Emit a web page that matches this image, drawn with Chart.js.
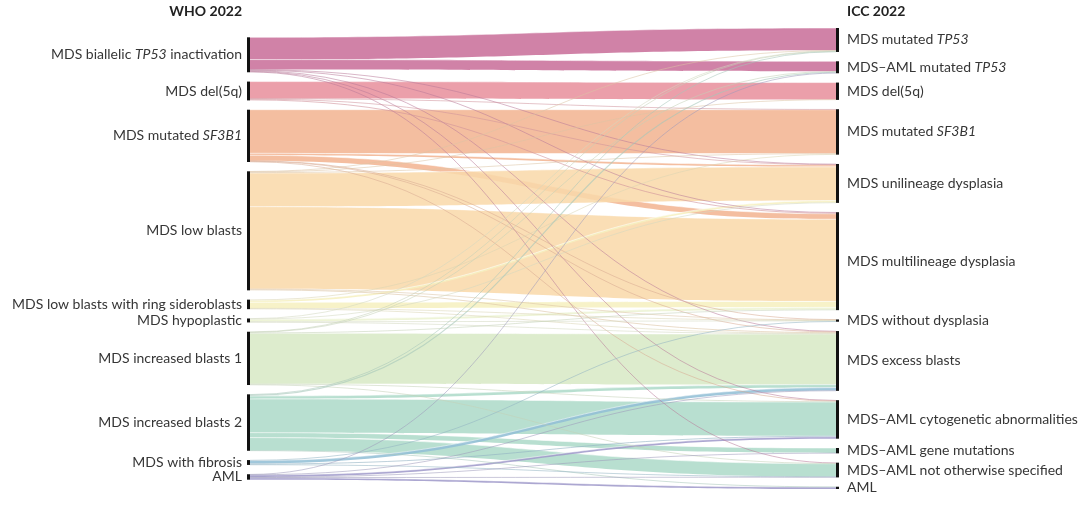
<!DOCTYPE html>
<html>
<head>
<meta charset="utf-8">
<script src="https://cdn.jsdelivr.net/npm/chart.js@4.4.1/dist/chart.umd.min.js"></script>
<style>
  html, body { margin: 0; padding: 0; background: #fff; }
  #wrap { width: 1080px; height: 505px; }
</style>
</head>
<body>
<div id="wrap"><canvas id="sankey" width="1080" height="505"></canvas></div>
<script>
// ---- data ----
const whoTitle = 'WHO 2022';
const iccTitle = 'ICC 2022';

const whoLabels = [
  'MDS biallelic TP53 inactivation',
  'MDS del(5q)',
  'MDS mutated SF3B1',
  'MDS low blasts',
  'MDS low blasts with ring sideroblasts',
  'MDS hypoplastic',
  'MDS increased blasts 1',
  'MDS increased blasts 2',
  'MDS with fibrosis',
  'AML'
];

const iccLabels = [
  'MDS mutated TP53',
  'MDS\u2013AML mutated TP53',
  'MDS del(5q)',
  'MDS mutated SF3B1',
  'MDS unilineage dysplasia',
  'MDS multilineage dysplasia',
  'MDS without dysplasia',
  'MDS excess blasts',
  'MDS\u2013AML cytogenetic abnormalities',
  'MDS\u2013AML gene mutations',
  'MDS\u2013AML not otherwise specified',
  'AML'
];

const whoColors = [
  '#c9719b', '#e8929e', '#f3b593', '#f9d9ab', '#f6f0c0',
  '#ecf3d2', '#d8e9c6', '#aedbca', '#93bfd6', '#a19bcb'
];

// patients per WHO class (rows) reclassified into each ICC class (columns)
const transitions = [
  // TP53 TP53A del5q SF3B1 uni  multi  w/o   EB   cyto gene  NOS  AML
  [ 225, 100,   0,    0,    4,    6,   0,    6,    6,   0,    6,   0 ],  // biallelic TP53
  [   0,   0, 170,    5,    5,   10,   0,    0,    0,   0,    0,   0 ],  // del(5q)
  [   0,   0,   0,  440,   20,   55,   3,    5,    5,   0,    0,   0 ],  // SF3B1
  [   4,   0,   5,    8,  340,  830,   5,   10,    0,   0,    0,   0 ],  // low blasts
  [   0,   0,   0,    6,   20,   60,   4,    6,    0,   0,    0,   0 ],  // low blasts RS
  [   4,   0,   0,    0,    4,   22,   6,    4,    0,   0,    0,   0 ],  // hypoplastic
  [   4,   5,   0,    0,    0,    6,   0,  510,    8,   0,    5,   0 ],  // IB1
  [   5,  12,   0,    0,    0,    0,   0,   30,  340,  50,  130,   3 ],  // IB2
  [   0,   0,   0,    0,    0,    0,   5,   30,   10,   0,    4,   0 ],  // fibrosis
  [   0,   4,   0,    0,    0,    0,   0,    3,   20,   4,    4,  20 ]   // AML
];

const italicTerms = ['TP53', 'SF3B1'];

// ---- layout helpers ----
const NODE_GAP = 94;           // vertical gap between nodes, in patient units
const LABEL_FONT = '14px Lato';
const TITLE_FONT = 'bold 14px Lato';

const whoTotals = transitions.map(row => row.reduce((a, b) => a + b, 0));
const iccTotals = iccLabels.map((_, j) => transitions.reduce((a, row) => a + row[j], 0));
const grandTotal = whoTotals.reduce((a, b) => a + b, 0);
const yMax = grandTotal + (iccLabels.length - 1) * NODE_GAP;

function stackNodes(totals) {
  const span = totals.reduce((a, b) => a + b, 0) + (totals.length - 1) * NODE_GAP;
  let y = (yMax - span) / 2;
  return totals.map(t => {
    const node = { y0: y, y1: y + t };
    y += t + NODE_GAP;
    return node;
  });
}

function buildLinks() {
  const left = stackNodes(whoTotals);
  const right = stackNodes(iccTotals);
  const links = [];
  transitions.forEach((row, i) => row.forEach((v, j) => {
    if (v > 0) links.push({ i, j, v });
  }));
  // source side: ordered by target position
  left.forEach((node, i) => {
    let acc = node.y0;
    links.filter(l => l.i === i).sort((a, b) => a.j - b.j).forEach(l => {
      l.sy0 = acc; acc += l.v; l.sy1 = acc;
    });
  });
  // target side: ordered by source position
  right.forEach((node, j) => {
    let acc = node.y0;
    links.filter(l => l.j === j).sort((a, b) => a.i - b.i).forEach(l => {
      l.ty0 = acc; acc += l.v; l.ty1 = acc;
    });
  });
  return { left, right, links };
}

function hexToRgb(hex) {
  const n = parseInt(hex.slice(1), 16);
  return [(n >> 16) & 255, (n >> 8) & 255, n & 255];
}

function drawLabel(ctx, text, x, y, align, baseFont) {
  const parts = text.split(/(TP53|SF3B1)/).filter(Boolean);
  const fonts = parts.map(p => (italicTerms.includes(p) ? 'italic ' : '') + baseFont);
  const widths = parts.map((p, k) => { ctx.font = fonts[k]; return ctx.measureText(p).width; });
  const total = widths.reduce((a, b) => a + b, 0);
  let cx = align === 'right' ? x - total : x;
  ctx.textAlign = 'left';
  parts.forEach((p, k) => {
    ctx.font = fonts[k];
    ctx.fillText(p, cx, y);
    cx += widths[k];
  });
}

const sankeyPlugin = {
  id: 'sankey',
  afterDraw(chart) {
    const ctx = chart.ctx;
    const xs = chart.scales.x, ys = chart.scales.y;
    const { left, right, links } = buildLinks();
    const x0 = xs.getPixelForValue(0);
    const x1 = xs.getPixelForValue(1);
    const xm = (x0 + x1) / 2;
    const py = v => ys.getPixelForValue(v);

    ctx.save();
    // wide flows first, thin ones on top
    const wide = links.filter(l => py(l.sy1) - py(l.sy0) >= 1.8);
    const thin = links.filter(l => py(l.sy1) - py(l.sy0) < 1.8);

    wide.forEach(l => {
      const a = py(l.sy0), b = py(l.sy1), c = py(l.ty0), d = py(l.ty1);
      const [r, g, bl] = hexToRgb(whoColors[l.i]);
      ctx.beginPath();
      ctx.moveTo(x0, a);
      ctx.bezierCurveTo(xm, a, xm, c, x1, c);
      ctx.lineTo(x1, d);
      ctx.bezierCurveTo(xm, d, xm, b, x0, b);
      ctx.closePath();
      ctx.fillStyle = `rgba(${r},${g},${bl},0.88)`;
      ctx.fill();
      // light seams between neighbouring flows
      ctx.strokeStyle = 'rgba(255,255,255,0.75)';
      ctx.lineWidth = 0.7;
      ctx.beginPath();
      ctx.moveTo(x0, a);
      ctx.bezierCurveTo(xm, a, xm, c, x1, c);
      ctx.stroke();
    });

    thin.forEach(l => {
      const a = (py(l.sy0) + py(l.sy1)) / 2;
      const c = (py(l.ty0) + py(l.ty1)) / 2;
      const w = py(l.sy1) - py(l.sy0);
      const [r, g, bl] = hexToRgb(whoColors[l.i]).map(v => Math.round(v * 0.72 + 40));
      ctx.beginPath();
      ctx.moveTo(x0, a);
      ctx.bezierCurveTo(xm, a, xm, c, x1, c);
      ctx.strokeStyle = `rgba(${r},${g},${bl},0.6)`;
      ctx.lineWidth = Math.max(w, 0.9);
      ctx.stroke();
    });

    // node bars
    ctx.fillStyle = '#111';
    left.forEach(n => ctx.fillRect(x0 - 3, py(n.y0), 3, Math.max(py(n.y1) - py(n.y0), 1.5)));
    right.forEach(n => ctx.fillRect(x1, py(n.y0), 3, Math.max(py(n.y1) - py(n.y0), 1.5)));

    // labels
    ctx.fillStyle = '#363636';
    ctx.textBaseline = 'middle';
    left.forEach((n, i) => drawLabel(ctx, whoLabels[i], x0 - 8, (py(n.y0) + py(n.y1)) / 2, 'right', LABEL_FONT));
    right.forEach((n, j) => drawLabel(ctx, iccLabels[j], x1 + 11, (py(n.y0) + py(n.y1)) / 2, 'left', LABEL_FONT));

    ctx.fillStyle = '#222';
    drawLabel(ctx, whoTitle, x0 - 8, 11, 'right', TITLE_FONT);
    drawLabel(ctx, iccTitle, x1 + 11, 11, 'left', TITLE_FONT);
    ctx.restore();
  }
};

new Chart(document.getElementById('sankey'), {
  type: 'scatter',
  data: { datasets: [] },
  options: {
    responsive: false,
    animation: false,
    layout: { padding: { left: 250, right: 244, top: 28, bottom: 16 } },
    plugins: { legend: { display: false }, tooltip: { enabled: false } },
    scales: {
      x: { type: 'linear', min: 0, max: 1, display: false },
      y: { type: 'linear', min: 0, max: yMax, reverse: true, display: false }
    }
  },
  plugins: [sankeyPlugin]
});
</script>
</body>
</html>
